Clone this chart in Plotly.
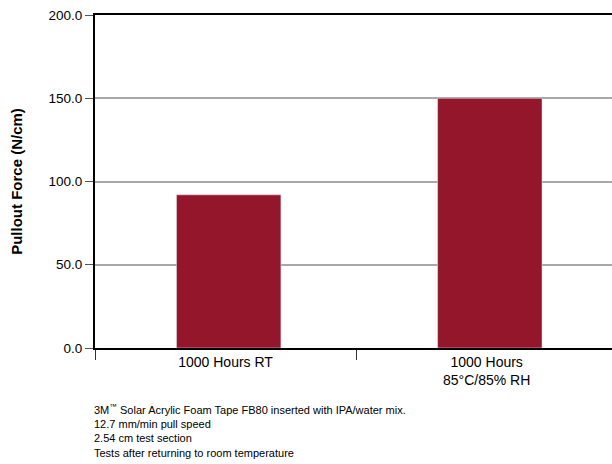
import plotly.graph_objects as go

categories = ["1000 Hours RT", "1000 Hours<br>85°C/85% RH"]
values = [92.0, 150.0]
y_ticks = [0, 50, 100, 150, 200]
notes = [
    "3M<sup>™</sup> Solar Acrylic Foam Tape FB80 inserted with IPA/water mix.",
    "12.7 mm/min pull speed",
    "2.54 cm test section",
    "Tests after returning to room temperature",
]

FONT = "Liberation Sans, Arial, sans-serif"

fig = go.Figure(go.Bar(x=categories, y=values, marker_color="#93162B",
                       width=0.4, offset=-0.188))

fig.update_layout(
    width=612, height=464,
    margin=dict(l=95, r=0, t=15, b=116),
    paper_bgcolor="white", plot_bgcolor="white",
    font=dict(family=FONT, size=13, color="black"),
    showlegend=False,
)
fig.update_xaxes(
    range=[-0.5, 1.48], automargin=False,
    showline=True, linecolor="black", linewidth=2, mirror=True,
    ticks="outside", tickson="boundaries", ticklen=10, tickcolor="#333", tickwidth=1,
    showgrid=False,
    tickfont=dict(family=FONT, size=14),
)
fig.update_yaxes(
    range=[0, 200], tickvals=y_ticks, tickformat=".1f", automargin=False,
    showline=True, linecolor="black", linewidth=2,
    ticks="outside", ticklen=8, tickcolor="#555", tickwidth=1,
    showgrid=True, gridcolor="#a8a8a8", gridwidth=1.5,
    zeroline=False,
    tickfont=dict(family=FONT, size=13.5),
    title=dict(text="<b>Pullout Force (N/cm)</b>", font=dict(family=FONT, size=15), standoff=22),
)
fig.add_annotation(
    text="<br>".join(notes), xref="paper", yref="paper",
    x=-0.006, y=-0.155, xanchor="left", yanchor="top", align="left",
    showarrow=False, font=dict(family=FONT, size=11),
)
fig.write_html("out.html", config={"displayModeBar": False},
               post_script="document.body.style.margin='0';document.body.style.padding='0';")
